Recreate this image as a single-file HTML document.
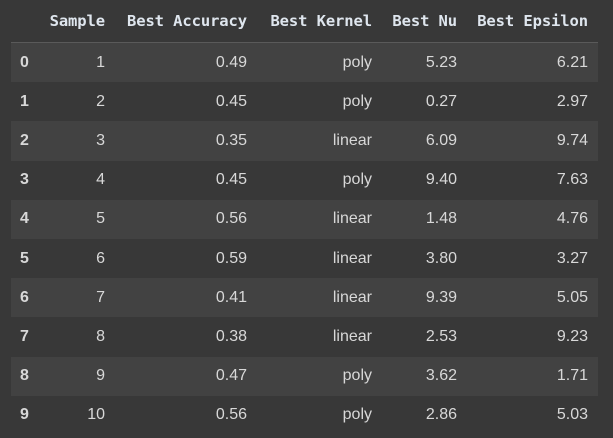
<!DOCTYPE html>
<html><head><meta charset="utf-8"><style>
html,body{margin:0;padding:0;background:#383838;width:613px;height:438px;overflow:hidden}
table{position:absolute;left:11px;top:0;border-collapse:collapse;table-layout:fixed;width:587px}
th{font-family:"DejaVu Sans Mono","Liberation Mono",monospace;font-weight:bold;font-size:15.5px;color:#dfe6ee;text-align:right;padding:0 10px 0 0;height:42px;border-bottom:1.5px solid #5a5a5a;white-space:nowrap;letter-spacing:-0.1px}
td{font-family:"Liberation Sans",sans-serif;font-size:16px;color:#d8d8d8;text-align:right;padding:0 10px 0 0;height:39.2px;white-space:nowrap}
td.idx{text-align:left;padding-left:9px;font-weight:bold}
tr.odd td{background:#424242}
</style></head><body>
<table>
<colgroup><col style="width:29px"><col style="width:75px"><col style="width:142px"><col style="width:125px"><col style="width:85px"><col style="width:131px"></colgroup>
<thead><tr>
<th></th>
<th>Sample</th>
<th>Best Accuracy</th>
<th>Best Kernel</th>
<th>Best Nu</th>
<th>Best Epsilon</th>
</tr></thead>
<tbody>
<tr class="odd"><td class="idx">0</td><td>1</td><td>0.49</td><td>poly</td><td>5.23</td><td>6.21</td></tr>
<tr><td class="idx">1</td><td>2</td><td>0.45</td><td>poly</td><td>0.27</td><td>2.97</td></tr>
<tr class="odd"><td class="idx">2</td><td>3</td><td>0.35</td><td>linear</td><td>6.09</td><td>9.74</td></tr>
<tr><td class="idx">3</td><td>4</td><td>0.45</td><td>poly</td><td>9.40</td><td>7.63</td></tr>
<tr class="odd"><td class="idx">4</td><td>5</td><td>0.56</td><td>linear</td><td>1.48</td><td>4.76</td></tr>
<tr><td class="idx">5</td><td>6</td><td>0.59</td><td>linear</td><td>3.80</td><td>3.27</td></tr>
<tr class="odd"><td class="idx">6</td><td>7</td><td>0.41</td><td>linear</td><td>9.39</td><td>5.05</td></tr>
<tr><td class="idx">7</td><td>8</td><td>0.38</td><td>linear</td><td>2.53</td><td>9.23</td></tr>
<tr class="odd"><td class="idx">8</td><td>9</td><td>0.47</td><td>poly</td><td>3.62</td><td>1.71</td></tr>
<tr><td class="idx">9</td><td>10</td><td>0.56</td><td>poly</td><td>2.86</td><td>5.03</td></tr>
</tbody></table>
</body></html>
